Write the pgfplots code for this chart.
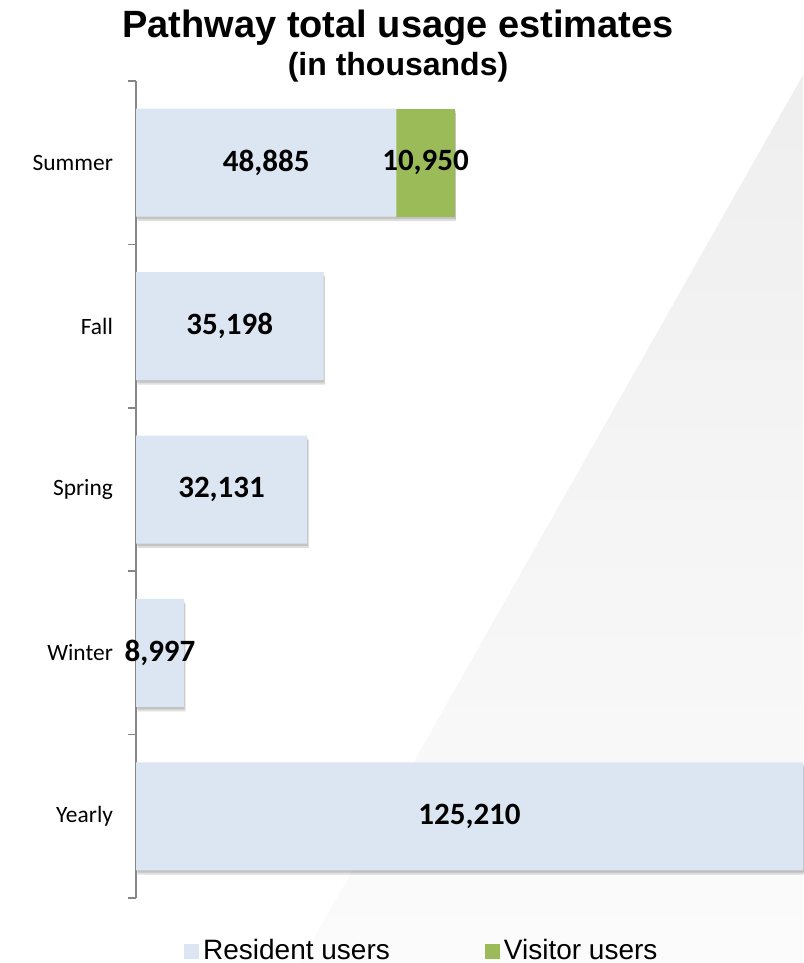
\documentclass[border=0pt]{standalone}
\usepackage{pgfplots}
\pgfplotsset{compat=1.18}
\usepackage{fontspec}
\setmainfont{Carlito}
\newfontfamily\arial{Liberation Sans}
\definecolor{resid}{HTML}{DCE6F2}
\definecolor{visit}{HTML}{9BBB59}
\definecolor{axgray}{HTML}{868686}
\pgfplotsset{
  geom/.style={scale only axis, width=333.5pt, height=408.5pt, anchor=south west,
    xmin=0, xmax=125210, ymin=-0.5, ymax=4.5, clip=false},
  bars/.style={geom, xbar stacked, bar width=54pt},
}
\tikzset{vlab/.style={font=\bfseries\fontsize{15.5}{18}\selectfont}}
\begin{document}
\begin{tikzpicture}
\useasboundingbox (0,0) rectangle (401.5pt,481.5pt);
\shade[top color=black!6.5, bottom color=black!1.5] (401.5pt,444pt) -- (401.5pt,0pt) -- (150pt,0pt) -- cycle;
\node[anchor=base, font=\arial\bfseries\fontsize{19}{22}\selectfont] at (199pt,462.5pt) {Pathway total usage estimates};
\node[anchor=base, font=\arial\bfseries\fontsize{16}{19}\selectfont] at (199pt,443.5pt) {(in thousands)};
% shadow layers
\begin{axis}[bars, at={(68.8pt,30.3pt)}, hide axis]
\addplot[fill=black, draw=none, opacity=0.13]
  coordinates {(48885,4) (35198,3) (32131,2) (8997,1) (125210,0)};
\addplot[fill=black, draw=none, opacity=0.13]
  coordinates {(10950,4)};
\end{axis}
\begin{axis}[bars, at={(68.4pt,31.3pt)}, hide axis]
\addplot[fill=black, draw=none, opacity=0.12]
  coordinates {(48885,4) (35198,3) (32131,2) (8997,1) (125210,0)};
\addplot[fill=black, draw=none, opacity=0.12]
  coordinates {(10950,4)};
\end{axis}
% main bars
\begin{axis}[bars,
  at={(68pt,32.5pt)},
  axis x line=none,
  axis y line*=left,
  y axis line style={draw=axgray, line width=0.8pt},
  ytick={0,1,2,3,4}, yticklabels={Yearly,Winter,Spring,Fall,Summer},
  major tick length=0pt,
  minor ytick={-0.5,0.5,1.5,2.5,3.5,4.5},
  minor tick length=4pt,
  tick align=outside,
  minor tick style={draw=axgray, line width=0.8pt},
  yticklabel style={font=\fontsize{11.7}{13}\selectfont, xshift=-8pt},
]
\addplot[fill=resid, draw=none]
  coordinates {(48885,4) (35198,3) (32131,2) (8997,1) (125210,0)};
\addplot[fill=visit, draw=none]
  coordinates {(10950,4)};
\end{axis}
% labels and legend
\begin{axis}[geom, at={(68pt,32.5pt)}, hide axis,
  legend image code/.code={\fill[#1] (0pt,-3.75pt) rectangle (7.5pt,3.75pt);},
  legend style={draw=none, fill=none, at={(0.430,-0.0649)}, anchor=center,
    legend columns=2, font=\arial\fontsize{14}{16}\selectfont,
    /tikz/every even column/.append style={column sep=45.5pt}},
]
\addlegendimage{fill=resid, draw=none}
\addlegendentry{Resident users}
\addlegendimage{fill=visit, draw=none}
\addlegendentry{Visitor users}
\node[vlab] at (axis cs:24442.5,4) {48,885};
\node[vlab] at (axis cs:54360,4) {10,950};
\node[vlab] at (axis cs:17599,3) {35,198};
\node[vlab] at (axis cs:16065.5,2) {32,131};
\node[vlab] at (axis cs:4498.5,1) {8,997};
\node[vlab] at (axis cs:62605,0) {125,210};
\end{axis}
\end{tikzpicture}
\end{document}
